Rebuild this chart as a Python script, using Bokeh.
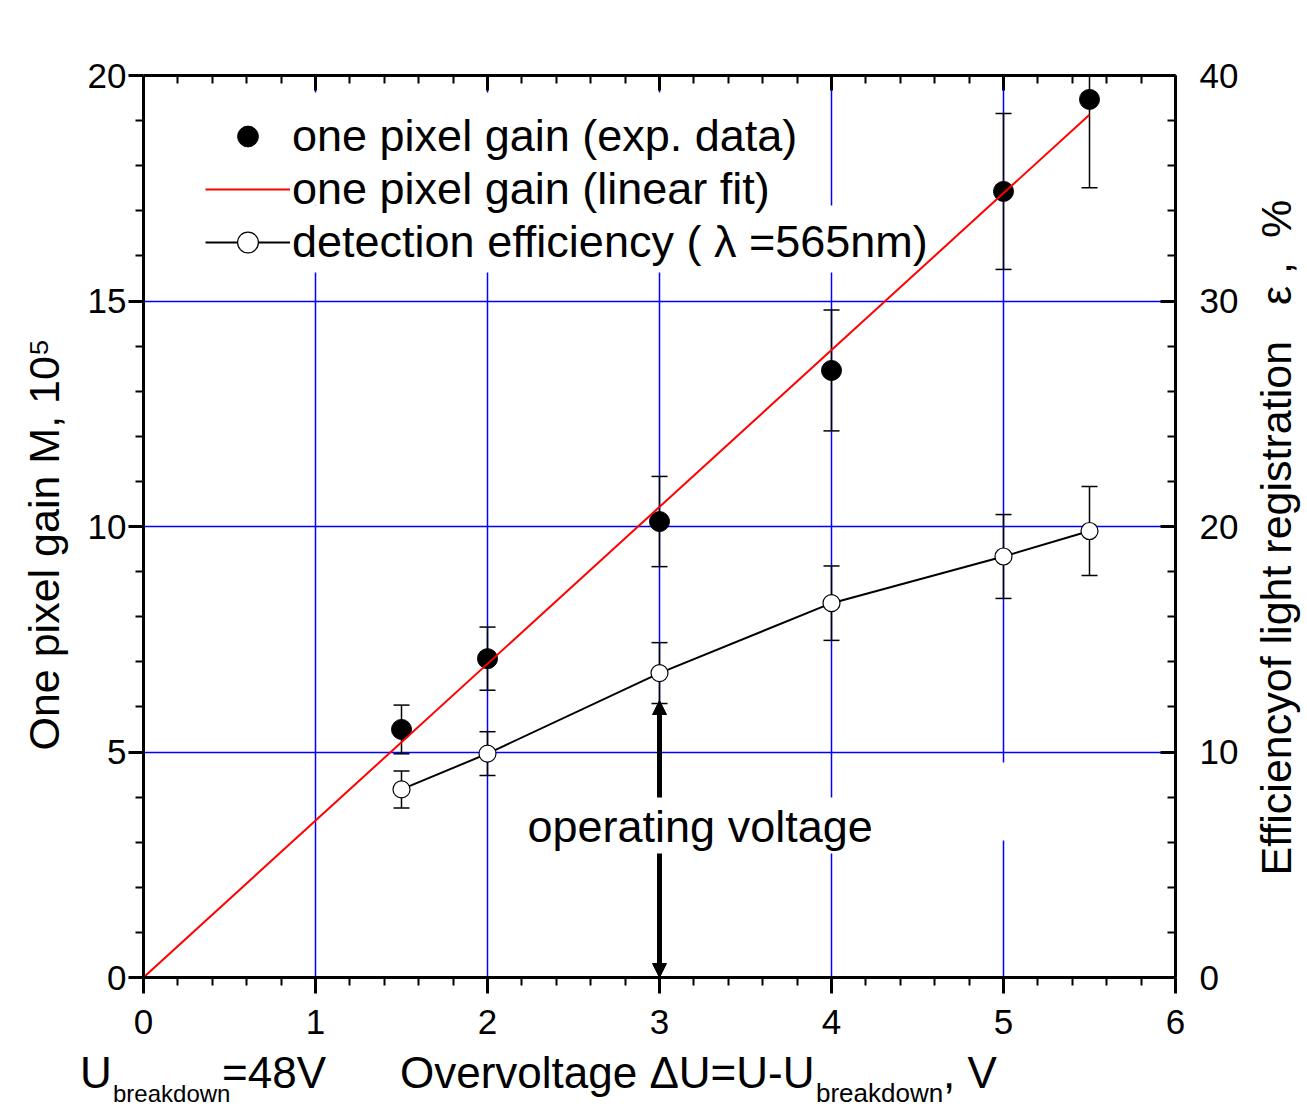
import math
from bokeh.plotting import figure
from bokeh.layouts import column, row
from bokeh.models import (Range1d, LinearAxis, FixedTicker, Whisker, TeeHead, ColumnDataSource,
                          Label, BoxAnnotation, Arrow, NormalHead, Legend, LegendItem, Div)
from bokeh.embed import file_html
from bokeh.resources import INLINE

# ---------------- data ----------------
overvoltage = [1.5, 2.0, 3.0, 4.0, 5.0, 5.5]
gain = [5.50, 7.07, 10.11, 13.46, 17.43, 19.47]          # 10^5
gain_err = [0.54, 0.70, 1.00, 1.34, 1.73, 1.96]
efficiency = [8.34, 9.93, 13.50, 16.60, 18.67, 19.80]     # %
eff_err = [0.82, 0.97, 1.35, 1.65, 1.86, 1.97]
fit_x = [0.0, 5.5]
fit_y = [0.0, 19.13]
x_ticks = [0, 1, 2, 3, 4, 5, 6]
gain_ticks = [0, 5, 10, 15, 20]
eff_ticks = [0, 10, 20, 30, 40]
grid_x = [1, 2, 3, 4, 5]
grid_y = [5, 10, 15]
operating_voltage = 3.0

FONT = "Liberation Sans"
NB = "\u00a0"

# pixel helpers for annotation placement (frame: left 143, bottom 977)
def dx(px):
    return (px - 143) / 172.0

def dy(py):
    return (977 - py) / 45.1

def mid(baseline_px, size):
    # centre line of a text whose alphabetic baseline is at baseline_px
    return baseline_px - 0.3465 * size

p = figure(width=1240, height=1051, frame_width=1032, frame_height=902,
           x_range=Range1d(0, 6), y_range=Range1d(0, 20),
           output_backend="svg", toolbar_location=None,
           min_border_left=143, min_border_right=65, min_border_top=75, min_border_bottom=74)
p.extra_y_ranges = {"eff": Range1d(0, 40)}
p.outline_line_color = None
p.background_fill_color = "white"
p.border_fill_color = "white"

def minors(ticks, n=5):
    out = []
    for a, b_ in zip(ticks[:-1], ticks[1:]):
        step = (b_ - a) / n
        out += [a + step * k for k in range(1, n)]
    return out

def style_axis(ax, ticks, tin, tout, standoff, labels=True):
    ax.ticker = FixedTicker(ticks=ticks, minor_ticks=minors(ticks))
    ax.axis_line_width = 3
    ax.axis_line_color = "black"
    ax.major_tick_line_width = 3
    ax.minor_tick_line_width = 2
    ax.major_tick_line_color = "black"
    ax.minor_tick_line_color = "black"
    ax.major_tick_in = tin
    ax.major_tick_out = tout
    ax.minor_tick_in = 8 if tin else 0
    ax.minor_tick_out = 8 if tout else 0
    ax.major_label_standoff = standoff
    ax.major_label_text_font = FONT
    ax.major_label_text_font_size = "35px"
    ax.major_label_text_color = "black"
    ax.axis_label_text_font = FONT
    ax.axis_label_text_font_size = "43px"
    ax.axis_label_text_font_style = "normal"
    ax.axis_label_text_color = "black"
    if not labels:
        ax.major_label_overrides = {t: "" for t in ticks}

style_axis(p.xaxis[0], x_ticks, 0, 16, 16)
style_axis(p.yaxis[0], gain_ticks, 0, 15, 2)
p.yaxis[0].axis_label = "One pixel gain M, 10\u2075" + NB * 3
p.yaxis[0].axis_label_standoff = 17

top_ax = LinearAxis()
style_axis(top_ax, x_ticks, 15, 0, 0, labels=False)
p.add_layout(top_ax, "above")

right_ax = LinearAxis(y_range_name="eff")
style_axis(right_ax, eff_ticks, 15, 0, 24)
p.add_layout(right_ax, "right")

# grid
p.xgrid.ticker = FixedTicker(ticks=grid_x)
p.ygrid.ticker = FixedTicker(ticks=grid_y)
for g in (p.xgrid[0], p.ygrid[0]):
    g.grid_line_color = "#0000FF"
    g.grid_line_width = 1.5
    g.grid_line_alpha = 1.0

# error bars
gsrc = ColumnDataSource(dict(x=overvoltage,
                             up=[g + e for g, e in zip(gain, gain_err)],
                             lo=[g - e for g, e in zip(gain, gain_err)]))
esrc = ColumnDataSource(dict(x=overvoltage,
                             up=[g + e for g, e in zip(efficiency, eff_err)],
                             lo=[g - e for g, e in zip(efficiency, eff_err)]))
for src, rng in ((gsrc, "default"), (esrc, "eff")):
    w = Whisker(source=src, base="x", upper="up", lower="lo", dimension="height",
                line_color="black", line_width=1.5, y_range_name=rng,
                upper_head=TeeHead(size=16, line_color="black", line_width=1.5),
                lower_head=TeeHead(size=16, line_color="black", line_width=1.5))
    w.level = "underlay"
    p.add_layout(w)

# series
r_eff_line = p.line(overvoltage, efficiency, y_range_name="eff", line_color="black", line_width=2)
r_eff_pts = p.scatter(overvoltage, efficiency, y_range_name="eff", size=17, marker="circle",
                      fill_color="white", line_color="black", line_width=1.2)
r_gain = p.scatter(overvoltage, gain, size=20, marker="circle", fill_color="black", line_color="black")
r_fit = p.line(fit_x, fit_y, line_color="#FF0000", line_width=2)

white = dict(fill_color="white", fill_alpha=1.0, line_color=None, line_alpha=0)

# white panels behind the legend text (they interrupt the grid like in the original)
p.add_layout(BoxAnnotation(left=dx(200), right=dx(810), bottom=dy(205), top=dy(92), **white))
p.add_layout(BoxAnnotation(left=dx(200), right=dx(860), bottom=dy(272), top=dy(205), **white))

# legend
legend = Legend(items=[
    LegendItem(label="one pixel gain (exp. data)", renderers=[r_gain]),
    LegendItem(label="one pixel gain (linear fit)", renderers=[r_fit]),
    LegendItem(label="detection efficiency ( λ =565nm)", renderers=[r_eff_line, r_eff_pts]),
], location=(62, 709), label_text_font=FONT, label_text_font_size="45px", label_text_color="black",
    glyph_width=85, glyph_height=52, label_height=52, spacing=1, padding=10, label_standoff=2,
    border_line_color=None, background_fill_color="white", background_fill_alpha=0.0, margin=0)
p.add_layout(legend)

# operating voltage arrow
arrow = Arrow(x_start=operating_voltage, y_start=0, x_end=operating_voltage, y_end=dy(700),
              line_color="black", line_width=5,
              start=NormalHead(size=14, fill_color="black", line_color="black"),
              end=NormalHead(size=14, fill_color="black", line_color="black"))
p.add_layout(arrow)

p.add_layout(BoxAnnotation(left=dx(520), right=dx(882), bottom=dy(853), top=dy(797), **white))
p.add_layout(BoxAnnotation(left=dx(995), right=dx(1012), bottom=dy(840), top=dy(762), **white))

p.add_layout(Label(x=dx(527), y=dy(mid(842, 45)), text="operating voltage", text_font=FONT,
                   text_font_size="45px", text_color="black", text_baseline="middle"))

# ---------------- right strip with the right-axis title ----------------
r = figure(width=67, height=1051, frame_width=67, frame_height=902,
           x_range=Range1d(0, 67), y_range=Range1d(0, 20),
           output_backend="svg", toolbar_location=None, x_axis_type=None, y_axis_type=None,
           min_border_left=0, min_border_right=0, min_border_top=75, min_border_bottom=74)
r.outline_line_color = None
r.xgrid.visible = False
r.ygrid.visible = False
r.background_fill_color = "white"
r.border_fill_color = "white"
r.add_layout(Label(x=mid(1289, 43) - 1240, y=dy(875),
                   text="Efficiencyof light registration" + NB * 3 + "\u03b5 ," + NB * 2 + "%",
                   text_font=FONT, text_font_size="43px", text_color="black",
                   text_align="left", text_baseline="middle", angle=90, angle_units="deg"))

# ---------------- bottom strip with the x-axis title ----------------
def span(text, left, baseline, size):
    top = baseline - 1051 - (0.905 + (1 - 1.117) / 2) * size
    return (f'<span style="position:absolute;left:{left}px;top:{top:.1f}px;font-size:{size}px;'
            f'line-height:1;white-space:nowrap;">{text}</span>')

bottom_html = ('<div style="position:relative;width:1307px;height:59px;'
               'font-family:\'Liberation Sans\',Arial,sans-serif;color:black;">'
               + span("U", 80, 1088, 44)
               + span("breakdown", 113, 1102, 24)
               + span("=48V", 222, 1088, 44)
               + span("Overvoltage &Delta;U=U-U", 400, 1088, 44)
               + span("breakdown", 816, 1102, 26)
               + span(", V", 943, 1088, 44)
               + '</div>')
bottom = Div(text=bottom_html, width=1307, height=59, margin=0)

layout = column(row(p, r, spacing=0), bottom, spacing=0)
open("out.html", "w").write(file_html(layout, INLINE))
